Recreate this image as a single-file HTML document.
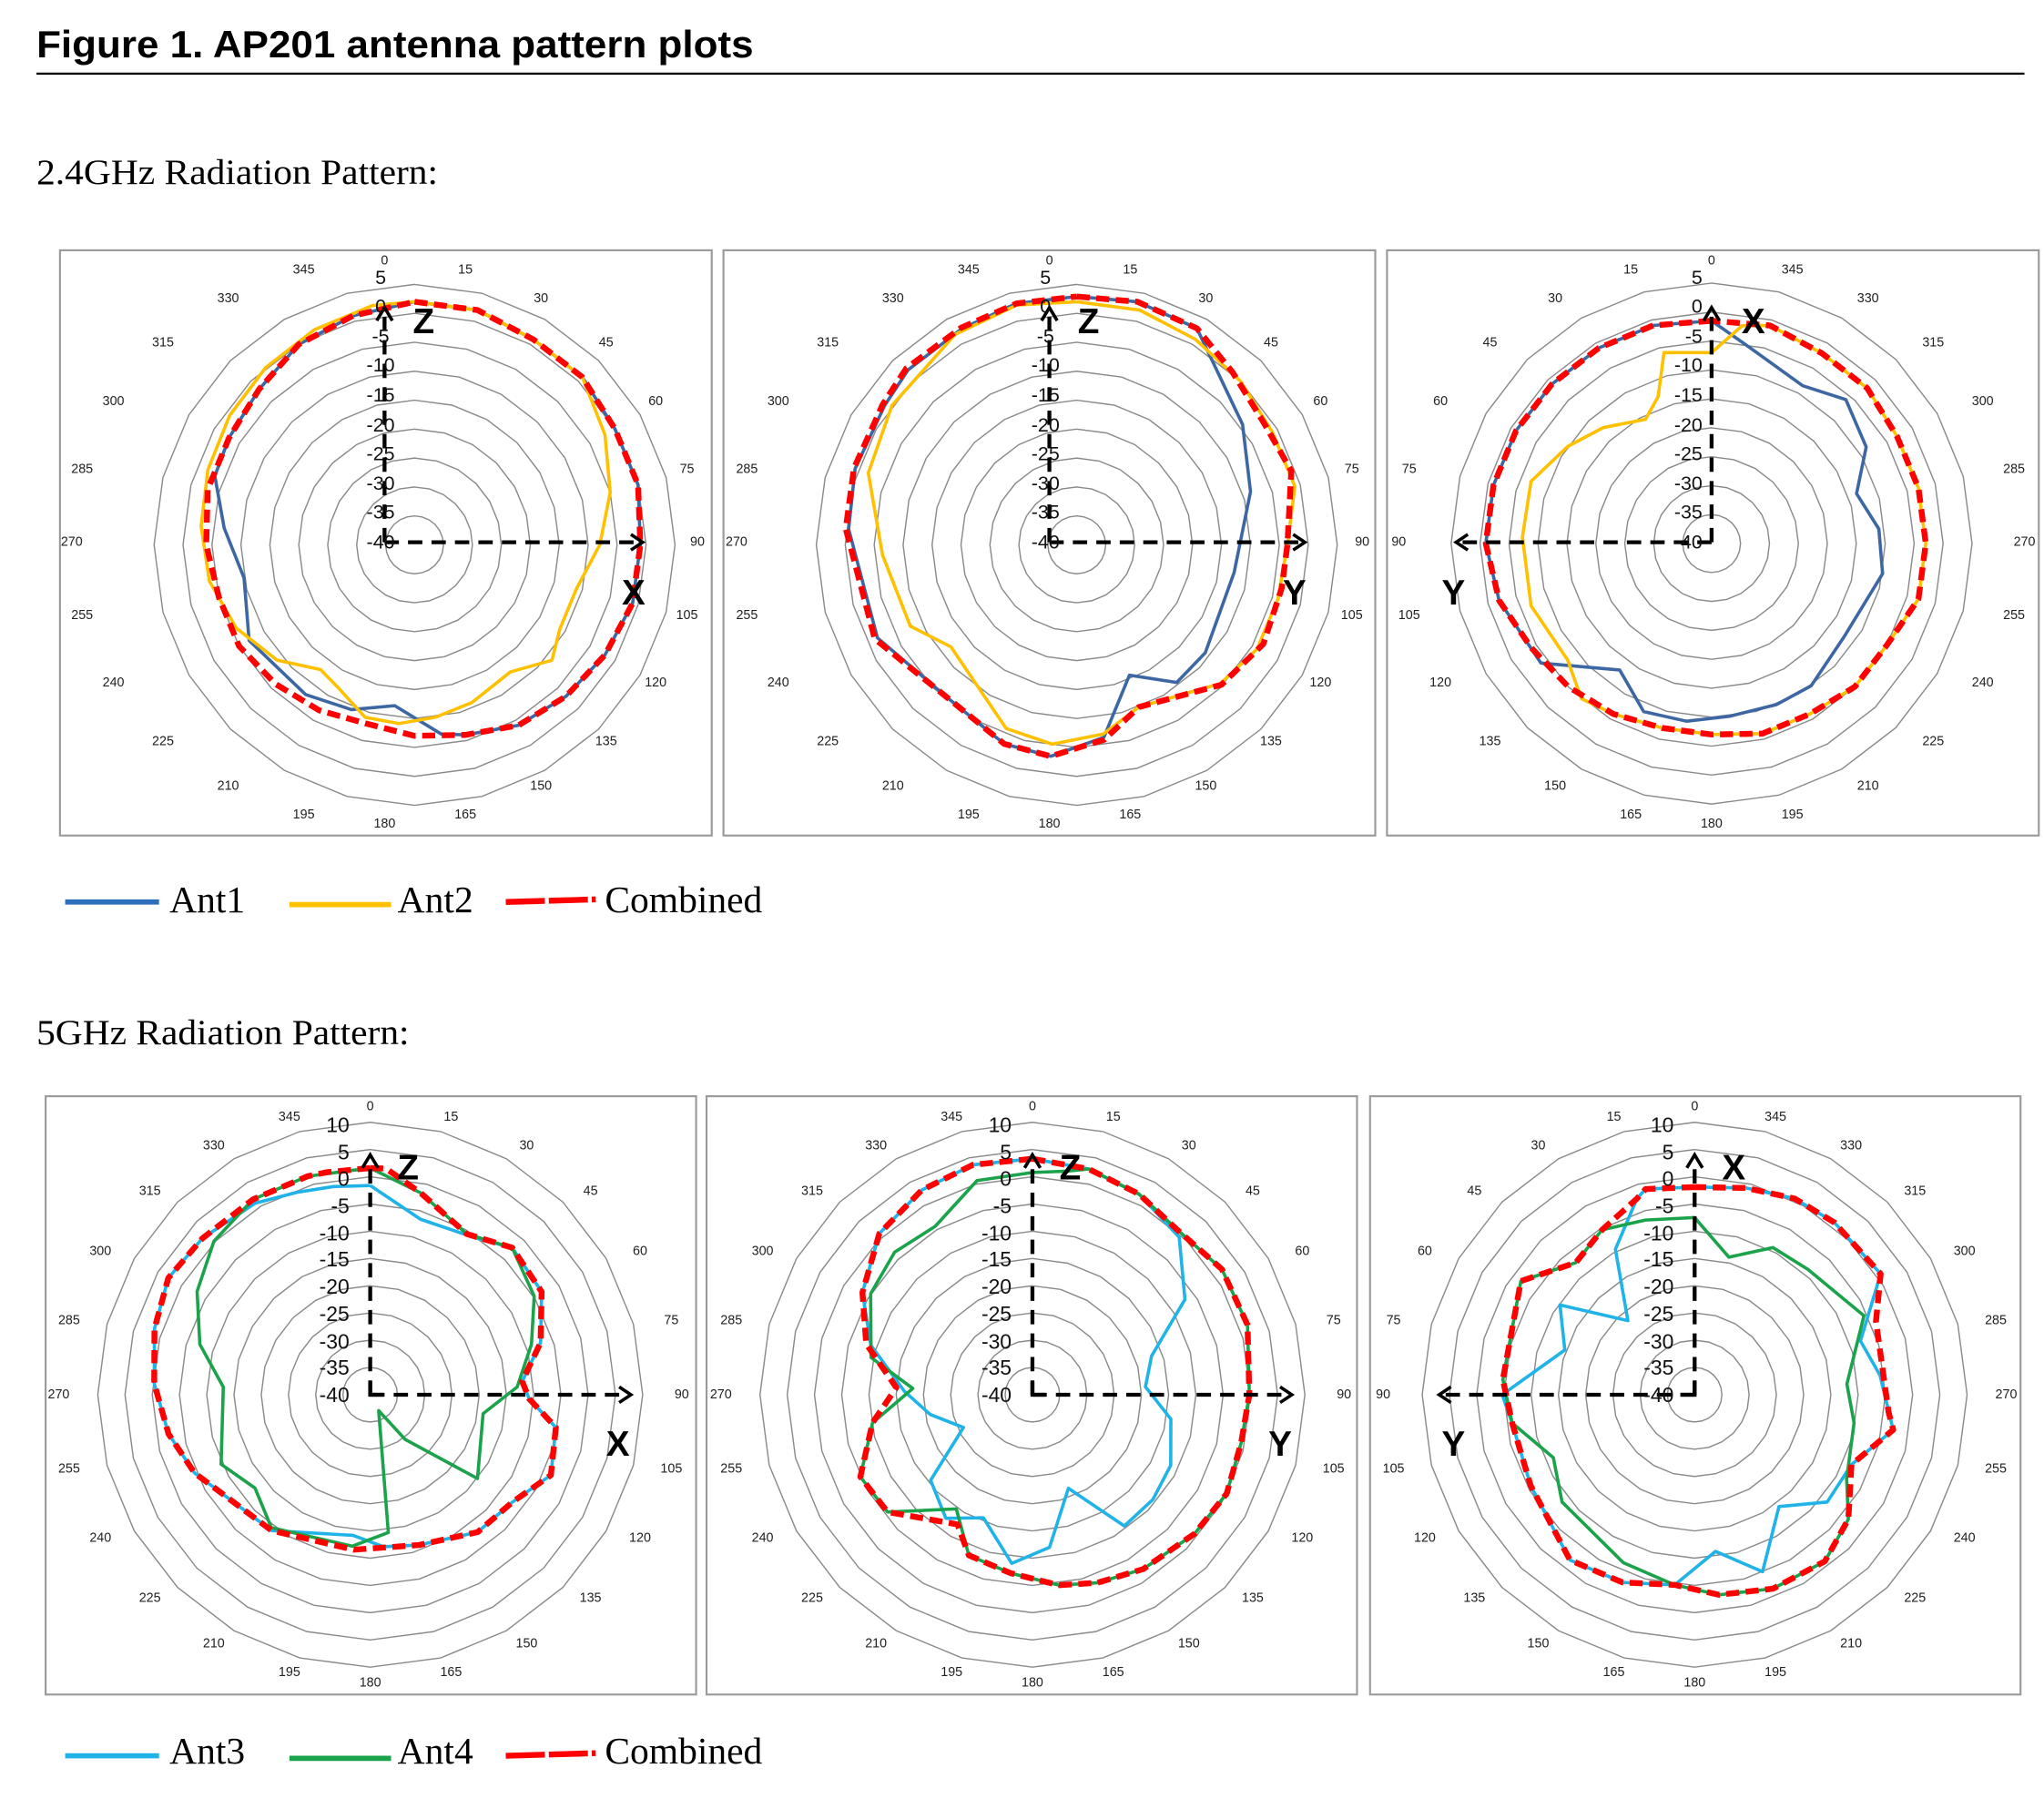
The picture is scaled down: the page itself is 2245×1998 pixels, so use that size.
<!DOCTYPE html>
<html><head><meta charset="utf-8"><style>
html,body{margin:0;padding:0;background:#fff}
svg{display:block}
.al{font-family:"Liberation Sans",sans-serif;font-size:10px;fill:#222;text-anchor:middle;dominant-baseline:central}
.rt{font-family:"Liberation Sans",sans-serif;font-size:15px;fill:#111;text-anchor:middle;dominant-baseline:central}
.rb{font-family:"Liberation Sans",sans-serif;font-size:16px;fill:#111;text-anchor:end;dominant-baseline:central}
.ax{font-family:"Liberation Sans",sans-serif;font-size:27px;font-weight:bold;fill:#000;text-anchor:middle;dominant-baseline:central}
.lg{font-family:"Liberation Serif",serif;font-size:29px;fill:#000}
</style></head><body>
<svg id="s" xmlns="http://www.w3.org/2000/svg" width="2245" height="1998" viewBox="0 0 1568 1395.5" preserveAspectRatio="none">
<rect width="1568" height="1396" fill="#fff"/>
<text x="28" y="44" font-family="Liberation Sans,sans-serif" font-weight="bold" font-size="29" textLength="550" lengthAdjust="spacingAndGlyphs">Figure 1. AP201 antenna pattern plots</text>
<line x1="28" y1="56.5" x2="1553" y2="56.5" stroke="#000" stroke-width="1.6"/>
<text x="28" y="141" font-family="Liberation Serif,serif" font-size="27" textLength="308" lengthAdjust="spacingAndGlyphs">2.4GHz Radiation Pattern:</text>
<text x="28" y="801" font-family="Liberation Serif,serif" font-size="27" textLength="286" lengthAdjust="spacingAndGlyphs">5GHz Radiation Pattern:</text>

<g fill="none" stroke="#9a9a9a" stroke-width="1.5">
<rect x="46" y="192" width="500" height="449"/><rect x="555" y="192" width="500" height="449"/><rect x="1064" y="192" width="500" height="449"/>
<rect x="35" y="841" width="499" height="459"/><rect x="542" y="841" width="499" height="459"/><rect x="1051" y="841" width="499" height="459"/>
</g>
<g id="grid" fill="none" stroke="#8a8a8a" stroke-width="1"></g>
<g id="series" fill="none" stroke-linejoin="round"></g>

<!-- angle labels, top cw charts -->
<g transform="translate(295,416)" class="al">
<text x="0" y="-216">0</text><text x="62" y="-209">15</text><text x="120" y="-187">30</text><text x="170" y="-153">45</text><text x="208" y="-108">60</text><text x="232" y="-56">75</text><text x="240" y="0">90</text><text x="232" y="56">105</text><text x="208" y="108">120</text><text x="170" y="153">135</text><text x="120" y="187">150</text><text x="62" y="209">165</text><text x="0" y="216">180</text><text x="-62" y="209">195</text><text x="-120" y="187">210</text><text x="-170" y="153">225</text><text x="-208" y="108">240</text><text x="-232" y="56">255</text><text x="-240" y="0">270</text><text x="-232" y="-56">285</text><text x="-208" y="-108">300</text><text x="-170" y="-153">315</text><text x="-120" y="-187">330</text><text x="-62" y="-209">345</text>
</g>
<g transform="translate(805,416)" class="al">
<text x="0" y="-216">0</text><text x="62" y="-209">15</text><text x="120" y="-187">30</text><text x="170" y="-153">45</text><text x="208" y="-108">60</text><text x="232" y="-56">75</text><text x="240" y="0">90</text><text x="232" y="56">105</text><text x="208" y="108">120</text><text x="170" y="153">135</text><text x="120" y="187">150</text><text x="62" y="209">165</text><text x="0" y="216">180</text><text x="-62" y="209">195</text><text x="-120" y="187">210</text><text x="-170" y="153">225</text><text x="-208" y="108">240</text><text x="-232" y="56">255</text><text x="-240" y="0">270</text><text x="-232" y="-56">285</text><text x="-208" y="-108">300</text><text x="-170" y="-153">315</text><text x="-120" y="-187">330</text><text x="-62" y="-209">345</text>
</g>
<g transform="translate(1313,416)" class="al">
<text x="0" y="-216">0</text><text x="-62" y="-209">15</text><text x="-120" y="-187">30</text><text x="-170" y="-153">45</text><text x="-208" y="-108">60</text><text x="-232" y="-56">75</text><text x="-240" y="0">90</text><text x="-232" y="56">105</text><text x="-208" y="108">120</text><text x="-170" y="153">135</text><text x="-120" y="187">150</text><text x="-62" y="209">165</text><text x="0" y="216">180</text><text x="62" y="209">195</text><text x="120" y="187">210</text><text x="170" y="153">225</text><text x="208" y="108">240</text><text x="232" y="56">255</text><text x="240" y="0">270</text><text x="232" y="-56">285</text><text x="208" y="-108">300</text><text x="170" y="-153">315</text><text x="120" y="-187">330</text><text x="62" y="-209">345</text>
</g>
<!-- angle labels, bottom -->
<g transform="translate(284,1070)" class="al">
<text x="0" y="-221">0</text><text x="62" y="-213">15</text><text x="120" y="-191">30</text><text x="169" y="-156">45</text><text x="207" y="-110">60</text><text x="231" y="-57">75</text><text x="239" y="0">90</text><text x="231" y="57">105</text><text x="207" y="110">120</text><text x="169" y="156">135</text><text x="120" y="191">150</text><text x="62" y="213">165</text><text x="0" y="221">180</text><text x="-62" y="213">195</text><text x="-120" y="191">210</text><text x="-169" y="156">225</text><text x="-207" y="110">240</text><text x="-231" y="57">255</text><text x="-239" y="0">270</text><text x="-231" y="-57">285</text><text x="-207" y="-110">300</text><text x="-169" y="-156">315</text><text x="-120" y="-191">330</text><text x="-62" y="-213">345</text>
</g>
<g transform="translate(792,1070)" class="al">
<text x="0" y="-221">0</text><text x="62" y="-213">15</text><text x="120" y="-191">30</text><text x="169" y="-156">45</text><text x="207" y="-110">60</text><text x="231" y="-57">75</text><text x="239" y="0">90</text><text x="231" y="57">105</text><text x="207" y="110">120</text><text x="169" y="156">135</text><text x="120" y="191">150</text><text x="62" y="213">165</text><text x="0" y="221">180</text><text x="-62" y="213">195</text><text x="-120" y="191">210</text><text x="-169" y="156">225</text><text x="-207" y="110">240</text><text x="-231" y="57">255</text><text x="-239" y="0">270</text><text x="-231" y="-57">285</text><text x="-207" y="-110">300</text><text x="-169" y="-156">315</text><text x="-120" y="-191">330</text><text x="-62" y="-213">345</text>
</g>
<g transform="translate(1300,1070)" class="al">
<text x="0" y="-221">0</text><text x="-62" y="-213">15</text><text x="-120" y="-191">30</text><text x="-169" y="-156">45</text><text x="-207" y="-110">60</text><text x="-231" y="-57">75</text><text x="-239" y="0">90</text><text x="-231" y="57">105</text><text x="-207" y="110">120</text><text x="-169" y="156">135</text><text x="-120" y="191">150</text><text x="-62" y="213">165</text><text x="0" y="221">180</text><text x="62" y="213">195</text><text x="120" y="191">210</text><text x="169" y="156">225</text><text x="207" y="110">240</text><text x="231" y="57">255</text><text x="239" y="0">270</text><text x="231" y="-57">285</text><text x="207" y="-110">300</text><text x="169" y="-156">315</text><text x="120" y="-191">330</text><text x="62" y="-213">345</text>
</g>

<!-- axes arrows -->
<g fill="none" stroke="#000" stroke-width="3" stroke-dasharray="11 7">
<path d="M295 416V240M295 416H488"/><path d="M805 416V240M805 416H996"/><path d="M1313 416V240M1313 416H1122"/>
<path d="M284 1070V890M284 1070H479"/><path d="M792 1070V890M792 1070H986"/><path d="M1300 1070V890M1300 1070H1109"/>
</g>
<g fill="none" stroke="#000" stroke-width="2.5">
<path d="M289 246L295 236L301 246M484 410L493 416L484 422"/>
<path d="M799 246L805 236L811 246M992 410L1001 416L992 422"/>
<path d="M1307 246L1313 236L1319 246M1126 410L1117 416L1126 422"/>
<path d="M278 896L284 886L290 896M475 1064L484 1070L475 1076"/>
<path d="M786 896L792 886L798 896M982 1064L991 1070L982 1076"/>
<path d="M1294 896L1300 886L1306 896M1113 1064L1104 1070L1113 1076"/>
<path d="M284 1060V1070H294M792 1060V1070H802M1300 1060V1070H1290" stroke-width="3"/>
</g>

<!-- radial labels -->
<g transform="translate(292,416)" class="rt"><text y="-203">5</text><text y="-181">0</text><text y="-158">-5</text><text y="-136">-10</text><text y="-113">-15</text><text y="-90">-20</text><text y="-68">-25</text><text y="-45">-30</text><text y="-23">-35</text><text y="0">-40</text></g>
<g transform="translate(802,416)" class="rt"><text y="-203">5</text><text y="-181">0</text><text y="-158">-5</text><text y="-136">-10</text><text y="-113">-15</text><text y="-90">-20</text><text y="-68">-25</text><text y="-45">-30</text><text y="-23">-35</text><text y="0">-40</text></g>
<g transform="translate(1306,416)" class="rt" style="text-anchor:end"><text y="-203">5</text><text y="-181">0</text><text y="-158">-5</text><text y="-136">-10</text><text y="-113">-15</text><text y="-90">-20</text><text y="-68">-25</text><text y="-45">-30</text><text y="-23">-35</text><text y="0">-40</text></g>
<g transform="translate(268,1070)" class="rb"><text y="-207">10</text><text y="-186">5</text><text y="-166">0</text><text y="-145">-5</text><text y="-124">-10</text><text y="-104">-15</text><text y="-83">-20</text><text y="-62">-25</text><text y="-41">-30</text><text y="-21">-35</text><text y="0">-40</text></g>
<g transform="translate(776,1070)" class="rb"><text y="-207">10</text><text y="-186">5</text><text y="-166">0</text><text y="-145">-5</text><text y="-124">-10</text><text y="-104">-15</text><text y="-83">-20</text><text y="-62">-25</text><text y="-41">-30</text><text y="-21">-35</text><text y="0">-40</text></g>
<g transform="translate(1284,1070)" class="rb"><text y="-207">10</text><text y="-186">5</text><text y="-166">0</text><text y="-145">-5</text><text y="-124">-10</text><text y="-104">-15</text><text y="-83">-20</text><text y="-62">-25</text><text y="-41">-30</text><text y="-21">-35</text><text y="0">-40</text></g>

<!-- axis letters -->
<text class="ax" x="325" y="247">Z</text><text class="ax" x="486" y="455">X</text>
<text class="ax" x="835" y="247">Z</text><text class="ax" x="993" y="455">Y</text>
<text class="ax" x="1345" y="247">X</text><text class="ax" x="1115" y="455">Y</text>
<text class="ax" x="313" y="896">Z</text><text class="ax" x="474" y="1108">X</text>
<text class="ax" x="821" y="896">Z</text><text class="ax" x="982" y="1108">Y</text>
<text class="ax" x="1330" y="896">X</text><text class="ax" x="1115" y="1108">Y</text>

<!-- legends -->
<line x1="50" y1="692" x2="122" y2="692" stroke="#2e6fbd" stroke-width="4"/>
<text class="lg" x="130" y="700">Ant1</text>
<line x1="222" y1="694" x2="300" y2="694" stroke="#ffc000" stroke-width="4"/>
<text class="lg" x="305" y="700">Ant2</text>
<line x1="388" y1="692" x2="457" y2="690" stroke="#ff0000" stroke-width="4.5" stroke-dasharray="30 3"/>
<text class="lg" x="464" y="700">Combined</text>
<line x1="50" y1="1347" x2="122" y2="1347" stroke="#1fb3e8" stroke-width="4"/>
<text class="lg" x="130" y="1353">Ant3</text>
<line x1="222" y1="1349" x2="300" y2="1349" stroke="#1aa34a" stroke-width="4"/>
<text class="lg" x="305" y="1353">Ant4</text>
<line x1="388" y1="1347" x2="457" y2="1345" stroke="#ff0000" stroke-width="4.5" stroke-dasharray="30 3"/>
<text class="lg" x="464" y="1353">Combined</text>
</svg>
<script>
(function(){
var NS="http://www.w3.org/2000/svg";
var grid=document.getElementById("grid"),ser=document.getElementById("series");
function arr(a){return a.map(function(v,i){return [i*15,v];});}
var charts=[
 {cx:318,cy:418,u:22.2,n:9,cw:1},
 {cx:826,cy:418,u:22.2,n:9,cw:1},
 {cx:1313,cy:417,u:22.2,n:9,cw:-1},
 {cx:284,cy:1070,u:20.9,n:10,cw:1},
 {cx:792,cy:1070,u:20.9,n:10,cw:1},
 {cx:1300,cy:1070,u:20.9,n:10,cw:-1}];
charts.forEach(function(c){
 for(var k=1;k<=c.n;k++){var r=k*c.u,p=[];
  for(var j=0;j<24;j++){var a=j*15*Math.PI/180;p.push((c.cx+r*Math.sin(a)).toFixed(1)+","+(c.cy-r*Math.cos(a)).toFixed(1));}
  var e=document.createElementNS(NS,"polygon");e.setAttribute("points",p.join(" "));grid.appendChild(e);}
});
function line(ci,pts,col,w,dash){
 var c=charts[ci],p=[];pts=pts.concat([[pts[0][0]+360,pts[0][1]]]);
 pts.forEach(function(q){var a=q[0]*Math.PI/180,r=(q[1]+40)/5*c.u;
  p.push((c.cx+c.cw*r*Math.sin(a)).toFixed(1)+","+(c.cy-r*Math.cos(a)).toFixed(1));});
 var e=document.createElementNS(NS,"polyline");e.setAttribute("points",p.join(" "));
 e.setAttribute("stroke",col);e.setAttribute("stroke-width",w);if(dash)e.setAttribute("stroke-dasharray",dash);
 ser.appendChild(e);}
var B="#3d67a3",Yl="#ffc000",R="#ff0000",C="#1fb3e8",G="#1aa34a",RW=4.5,RD="10 5";
// chart 1
var r1=arr([2,2,1,1,0,0,-1,-1,-2,-3,-4,-6,-7,-8,-7,-6,-5,-5,-4,-3,-3,-2,0,1]);
line(0,[[0,2],[15,2],[30,1],[45,1],[60,0],[75,0],[90,-1],[105,-1],[120,-2],[135,-3],[150,-4],[165,-6],[172,-7],[187,-12],[201,-9.5],[216,-8],[240,-7],[259,-10],[275,-7],[289,-3.5],[300,-3],[315,-2],[330,0],[345,1]],B,2.5);
line(0,[[0,2],[15,2],[30,1],[45,1],[60,-2],[75,-5],[90,-8],[105,-11],[120,-11],[130,-9],[143,-12.5],[160,-11],[173,-10],[185,-9],[196,-9],[208,-12],[217,-13],[230,-9],[245,-6],[260,-4],[275,-3],[290,-2],[305,-1],[320,0],[335,1],[350,2]],Yl,2.5);
line(0,r1,R,RW,RD);
// chart 2
var r2=[[0,2.9],[14,3.3],[29,2.8],[42,0.2],[57,-1.4],[71,-0.8],[90,-3.6],[102,-3.8],[118,-3.5],[134,-5.2],[159,-10],[172,-6],[187,-3.2],[200,-3.4],[220,-5.4],[245,-1.5],[274,0],[289,0.7],[306,1.4],[316,2.4],[332,2.5],[346,3]];
line(1,[[0,2.9],[14,3.3],[29,2.8],[54,-4.6],[73,-8.6],[100,-12.4],[130,-11],[144,-10.6],[158,-15.7],[172,-6.4],[187,-3.2],[200,-3.4],[220,-5.4],[245,-2],[274,-0.5],[289,0.5],[306,1],[316,2],[332,2.3],[346,3]],B,2.5);
line(1,[[0,2],[15,2],[30,1],[45,0],[60,-1],[75,-1],[90,-3.6],[105,-4],[120,-4],[134,-5.5],[159,-10],[172,-7],[187,-5.3],[201,-6],[231,-12],[244,-8],[267,-6.4],[289,-1.9],[307,0],[330,2],[346,2.7]],Yl,2.5);
line(1,r2,R,RW,RD);
// chart 3
var r3=arr([-1.5,-1,-1,-1,-1,-1,-1,-2,-4,-5,-6,-7,-7,-6,-6,-5,-5,-3,-3,-3,-3,-2,-2,-1]);
line(2,[[0,-1.5],[15,-1],[30,-1],[45,-1],[60,-1],[75,-1],[90,-1],[105,-2],[125,-4],[144,-13],[158,-8.7],[172,-9],[186,-10],[202,-10],[215,-10],[235,-12],[260,-10],[275,-11],[289,-13.5],[302,-8.5],[317,-6],[330,-8.5],[349,-5.5]],B,2.5);
line(2,[[0,-7],[14,-6],[20,-13],[28,-15.7],[43,-12.6],[56,-10],[71,-7],[88,-7.3],[109,-7],[129,-8],[140,-5],[150,-6],[165,-7],[180,-7],[195,-6],[210,-6],[225,-5],[240,-5],[255,-3],[270,-3],[285,-3],[300,-3],[315,-2],[330,-2],[345,-1],[352,-2]],Yl,2.5);
line(2,r3,R,RW,RD);
// chart 4
var r4=[[0,1.6],[4,1.6],[14,-1.8],[31,-5.6],[44,-2.5],[59,-3.3],[73,-7.3],[85,-12],[91.5,-10.8],[100,-5.4],[114,-3.7],[127,-7.3],[142,-8],[162,-11],[186,-11.4],[216,-9.2],[246,-4.7],[259,-2.3],[273,-0.3],[287,1.4],[300,2.8],[313,2.1],[329,1.8],[344,1.7],[349,1.6]];
line(3,[[0,-1.6],[16,-6.5],[34,-5.3],[44,-2.5],[59,-3.3],[73,-7.3],[85,-12],[91.5,-10.8],[100,-5.4],[114,-3.7],[127,-7.3],[142,-8],[162,-11],[175,-12],[187,-14],[216,-9.2],[246,-4.7],[259,-2.3],[273,-0.3],[287,1.4],[300,2.8],[313,2.1],[329,1.0],[340,-0.5],[350,-1.2]],C,2.5);
line(3,[[0,1.6],[14,-1.8],[31,-5.6],[44,-2.5],[59,-4.9],[72.6,-9],[87,-13],[99.5,-19],[128,-15],[142,-29.6],[152,-36.7],[172.5,-14.5],[186.7,-12],[216.6,-9.6],[231,-12.8],[245,-9.8],[273,-13],[286.5,-7.4],[300.8,-3],[314.5,0.2],[329,1.8],[344,1.7]],G,2.5);
line(3,r4,R,RW,RD);
// chart 5
var r5=[[0,3.3],[14,2.7],[28,1.7],[41,0.3],[56.5,1.7],[72,1.5],[90,-0.2],[103,-0.7],[117,0],[130.6,-0.8],[147.6,-2.1],[161,-3.5],[172,-4.7],[187,-7],[201.6,-8.3],[210,-12.5],[231,-5.8],[244.5,-5],[260,-10.2],[273,-15],[287,-8.1],[301,-3.6],[316.5,0.8],[331.6,2.7],[345.5,3.6]];
line(4,[[0,3.3],[14,2.7],[28,1.7],[43,-0.5],[58,-7],[72,-17],[86,-19.2],[100,-14.2],[117,-11.5],[131,-10.7],[145,-10.6],[159,-21.6],[173.6,-11.8],[187,-8.8],[201.7,-15.7],[215,-12.3],[230,-15.6],[244.6,-26],[259,-20.9],[271.5,-16.5],[287,-9],[301,-3.6],[316.5,0.8],[331.6,2.7],[345.5,3.6]],C,2.5);
line(4,[[0,0.8],[8.7,1.5],[14,2.7],[28,1.7],[41,0.3],[56.5,1.7],[72,1.5],[90,-0.2],[103,-0.7],[117,0],[130.6,-0.8],[147.6,-2.1],[161,-3.5],[172,-4.7],[187,-7],[201.6,-8.3],[213.7,-14.8],[231,-5.8],[244.5,-5],[260,-10.2],[273,-18],[283,-9.6],[302,-5],[316,-3.6],[330,-4.3],[345.5,0.6]],G,2.5);
line(4,r5,R,RW,RD);
// chart 6
var r6=[[0,-1.9],[13.4,-1.2],[16.4,-2.5],[29.3,-5.3],[42,-7.4],[56.8,-1.9],[85.5,-4.7],[98.8,-6.1],[119,-5.6],[143,-2],[159,-3.1],[174,-4.9],[187,-3],[202,-1.6],[218,-1.2],[231,-3.7],[246,-8.5],[260,-3],[265,-4.3],[292,-4.1],[303,0.7],[321,0.7],[333,0.4],[346,-0.9]];
line(5,[[0,-1.9],[13.4,-1.2],[16.4,-2.5],[28.6,-9.6],[42,-21.7],[56.3,-10.3],[71,-14.8],[90,-4.7],[98.8,-6.1],[119,-5.6],[143,-2],[159,-3.1],[174,-4.9],[187.6,-11],[201,-5.2],[217,-14.3],[231,-8.7],[246,-8.5],[260,-3],[276,-5.8],[288,-8],[303,0.7],[321,0.7],[333,0.4],[346,-0.9]],C,2.5);
line(5,[[0,-7.5],[15.7,-6.7],[29.3,-5.3],[42,-7.4],[56.8,-1.9],[85.5,-4.7],[98.8,-6.1],[114,-11.6],[129,-8.7],[157,-6.5],[174,-4.9],[187,-3],[202,-1.6],[218,-1.2],[231,-3.7],[241,-8.1],[260,-10.3],[274,-12],[295,-5.7],[318,-9],[332,-9.4],[346,-14]],G,2.5);
line(5,r6,R,RW,RD);
})();
</script>
</body></html>
